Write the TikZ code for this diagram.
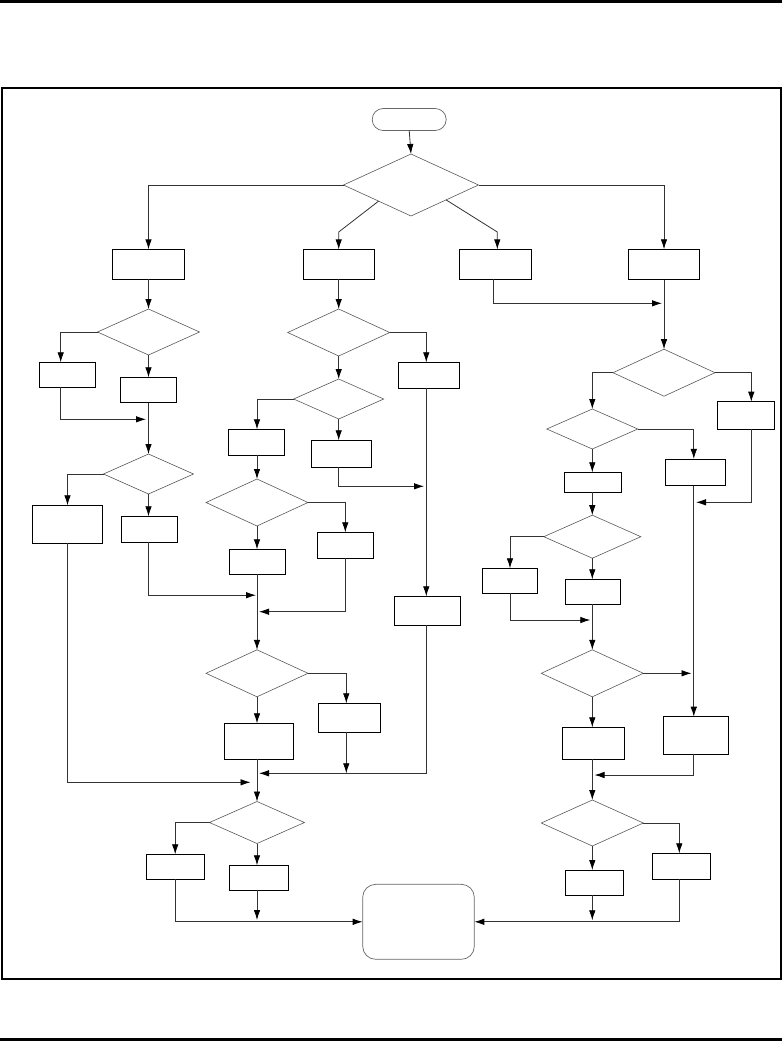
\documentclass[tikz,border=0pt]{standalone}
\usetikzlibrary{shapes.geometric,arrows.meta,calc}
\begin{document}
\begin{tikzpicture}[x=1pt,y=-1pt,
  box/.style={draw=black, line width=0.9pt, inner sep=0pt, outer sep=0pt},
  dia/.style={diamond, draw=black!65, line width=0.6pt, inner sep=0pt, outer sep=0pt},
  term/.style={draw=black!60, line width=0.7pt, inner sep=0pt, outer sep=0pt},
  conn/.style={draw=black!80, line width=0.8pt},
  arr/.style={conn, -{Latex[length=10pt,width=6.5pt,color=black]}},
  rule/.style={line width=2.4pt, draw=black}]
\useasboundingbox (0,0) rectangle (782,1042);
% page rules and frame
\draw[rule] (0,1.5) -- (782,1.5);
\draw[rule] (0,1039.6) -- (782,1039.6);
\draw[line width=2pt] (1.5,88) rectangle (780.5,979);

% terminals
\node[term, rounded corners=11pt, minimum width=74pt, minimum height=22pt] (T0) at (409.2,119.5) {};
\node[term, rounded corners=13pt, minimum width=111.6pt, minimum height=75pt] (T1) at (418.5,921.8) {};

% diamonds
\node[dia, minimum width=135pt, minimum height=62pt] (D0) at (411,185) {};
\node[dia, minimum width=102pt, minimum height=46pt] (D1) at (148.5,332) {};
\node[dia, minimum width=90pt, minimum height=40pt] (D2) at (148.5,474) {};
\node[dia, minimum width=102pt, minimum height=47pt] (D3) at (338.7,332.5) {};
\node[dia, minimum width=90pt, minimum height=40pt] (D4) at (338.7,399) {};
\node[dia, minimum width=102pt, minimum height=47pt] (D5) at (257,502.5) {};
\node[dia, minimum width=102pt, minimum height=47pt] (D6) at (257,673.3) {};
\node[dia, minimum width=95pt, minimum height=42pt] (D7) at (257,822.5) {};
\node[dia, minimum width=102pt, minimum height=47pt] (DR1) at (664,372.7) {};
\node[dia, minimum width=91pt, minimum height=40pt] (DR2) at (592.3,429) {};
\node[dia, minimum width=97pt, minimum height=43pt] (DR3) at (592.3,536.7) {};
\node[dia, minimum width=102pt, minimum height=47pt] (DR4) at (592.3,673.3) {};
\node[dia, minimum width=102pt, minimum height=46pt] (DR5) at (592.3,823) {};

% boxes
\node[box, minimum width=72.4pt, minimum height=29.7pt] (B1) at (148.5,264.2) {};
\node[box, minimum width=71pt, minimum height=29.7pt] (B2) at (338.7,264.2) {};
\node[box, minimum width=72pt, minimum height=29.7pt] (B3) at (495.2,264.2) {};
\node[box, minimum width=71pt, minimum height=30.5pt] (B4) at (664,264.5) {};
\node[box, minimum width=56.4pt, minimum height=25pt] (L1) at (67.5,374.8) {};
\node[box, minimum width=56pt, minimum height=25.4pt] (L2) at (148.7,390) {};
\node[box, minimum width=70.4pt, minimum height=38pt] (L3) at (67.5,524.3) {};
\node[box, minimum width=56.7pt, minimum height=26pt] (L4) at (149.3,529.3) {};
\node[box, minimum width=61pt, minimum height=26pt] (MR) at (428.8,375.3) {};
\node[box, minimum width=55.4pt, minimum height=26pt] (M1) at (256.5,442.3) {};
\node[box, minimum width=60pt, minimum height=27pt] (M2) at (341.3,453.8) {};
\node[box, minimum width=56.4pt, minimum height=25pt] (M3) at (257.5,561.8) {};
\node[box, minimum width=56pt, minimum height=26pt] (M4) at (345.3,545.3) {};
\node[box, minimum width=66pt, minimum height=29pt] (MR2) at (427.3,610.8) {};
\node[box, minimum width=69pt, minimum height=36pt] (M5) at (258.8,741.3) {};
\node[box, minimum width=62pt, minimum height=29pt] (M6) at (349.3,717.8) {};
\node[box, minimum width=58.3pt, minimum height=25pt] (E1) at (175.2,866.8) {};
\node[box, minimum width=59pt, minimum height=25pt] (E2) at (258.8,877.8) {};
\node[box, minimum width=57pt, minimum height=27.6pt] (R1) at (745.8,415.5) {};
\node[box, minimum width=60.4pt, minimum height=26.7pt] (R2) at (695.5,472.3) {};
\node[box, minimum width=57.4pt, minimum height=20pt] (R3) at (593,482.3) {};
\node[box, minimum width=55.4pt, minimum height=25pt] (R4) at (510,580.8) {};
\node[box, minimum width=54.6pt, minimum height=25pt] (R5) at (593,591.8) {};
\node[box, minimum width=65pt, minimum height=37.6pt] (R6) at (695.8,735.5) {};
\node[box, minimum width=62pt, minimum height=32pt] (R7) at (593.3,743.3) {};
\node[box, minimum width=58.3pt, minimum height=25.3pt] (R8) at (594.2,882.7) {};
\node[box, minimum width=58pt, minimum height=26pt] (R9) at (681.3,866.3) {};

% helper coordinates for off-centre lines and junctions
\coordinate (k2) at (338.7,232);
\coordinate (k3) at (497.3,232);
\coordinate (b3o) at (493.3,279.2);
\coordinate (j1) at (662,303.3);
\coordinate (l1x) at (60.7,0);
\coordinate (j2) at (146,419.3);
\coordinate (j3) at (256,595.2);
\coordinate (j4) at (250.5,782.3);
\coordinate (mrx) at (426.3,0);
\coordinate (j5) at (424,486.3);
\coordinate (j6) at (259,611.7);
\coordinate (m6x) at (346.3,0);
\coordinate (j7) at (346.3,773.3);
\coordinate (j8) at (259,773.3);
\coordinate (j9) at (257,920);
\coordinate (r1x) at (751.3,0);
\coordinate (j10) at (696,502.3);
\coordinate (rx2) at (693.8,0);
\coordinate (j11) at (590.3,620);
\coordinate (j12) at (691.5,673.3);
\coordinate (j13) at (594.5,775);
\coordinate (r9x) at (679.3,0);
\coordinate (j14) at (592.3,920.3);

% connectors: top
\draw[arr] (T0.south) -- (D0.north);
\draw[arr] (D0.west) -| (B1.north);
\draw[arr] ($(D0.west)!0.52!(D0.south)$) -- (k2) -- (B2.north);
\draw[arr] ($(D0.south)!0.52!(D0.east)$) -- (k3) -- (k3 |- B3.north);
\draw[arr] (D0.east) -| (B4.north);

% left column
\draw[arr] (B1.south) -- (D1.north);
\draw[arr] (D1.west) -| (l1x |- L1.north);
\draw[arr] (D1.south) -- (D1.south |- L2.north);
\draw[arr] (l1x |- L1.south) |- (j2);
\draw[arr] (L2.south -| D2.north) -- (D2.north);
\draw[arr] (D2.west) -| (L3.north);
\draw[arr] (D2.south) -- (D2.south |- L4.north);
\draw[arr] (D2.south |- L4.south) |- (j3);
\draw[arr] (L3.south) |- (j4);

% middle column
\draw[arr] (B2.south) -- (D3.north);
\draw[arr] (D3.east) -| (mrx |- MR.north);
\draw[arr] (D3.south) -- (D4.north);
\draw[arr] (D4.west) -| (D5.north |- M1.north);
\draw[arr] (D4.south) -- (D4.south |- M2.north);
\draw[arr] (D4.south |- M2.south) |- (j5);
\draw[arr] (D5.north |- M1.south) -- (D5.north);
\draw[arr] (mrx |- MR.south) -- (mrx |- MR2.north);
\draw[arr] (D5.east) -| (M4.north);
\draw[arr] (D5.south) -- (D5.south |- M3.north);
\draw[arr] (D5.south |- M3.south) -- (D6.north);
\draw[arr] (M4.south) |- (j6);
\draw[arr] (D6.east) -| (m6x |- M6.north);
\draw[arr] (D6.south) -- (D6.south |- M5.north);
\draw[arr] (D6.south |- M5.south) -- (D7.north);
\draw[arr] (m6x |- M6.south) -- (j7);
\draw[arr] (mrx |- MR2.south) |- (j8);
\draw[arr] (D7.west) -| (E1.north);
\draw[arr] (D7.south) -- (D7.south |- E2.north);
\draw[arr] (D7.south |- E2.south) -- (j9);
\draw[arr] (E1.south) |- (T1.west);

% right side
\draw[conn] (b3o) -- (b3o |- j1);
\draw[arr] (b3o |- j1) -- (j1);
\draw[arr] (B4.south) -- (DR1.north);
\draw[arr] (DR1.west) -| (DR2.north);
\draw[arr] (DR1.east) -| (r1x |- R1.north);
\draw[arr] (r1x |- R1.south) |- (j10);
\draw[arr] (DR2.east) -| (rx2 |- R2.north);
\draw[arr] (DR2.south) -- (DR2.south |- R3.north);
\draw[arr] (DR2.south |- R3.south) -- (DR3.north);
\draw[arr] (DR3.west) -| (R4.north);
\draw[arr] (DR3.south) -- (DR3.south |- R5.north);
\draw[arr] (R4.south) |- (j11);
\draw[arr] (DR3.south |- R5.south) -- (DR4.north);
\draw[arr] (DR4.east) -- (j12);
\draw[arr] (rx2 |- R2.south) -- (rx2 |- R6.north);
\draw[arr] (DR4.south) -- (DR4.south |- R7.north);
\draw[arr] (rx2 |- R6.south) |- (j13);
\draw[arr] (DR4.south |- R7.south) -- (DR5.north);
\draw[arr] (DR5.east) -| (r9x |- R9.north);
\draw[arr] (DR5.south) -- (DR5.south |- R8.north);
\draw[arr] (DR5.south |- R8.south) -- (j14);
\draw[arr] (r9x |- R9.south) |- (T1.east);
\end{tikzpicture}
\end{document}
